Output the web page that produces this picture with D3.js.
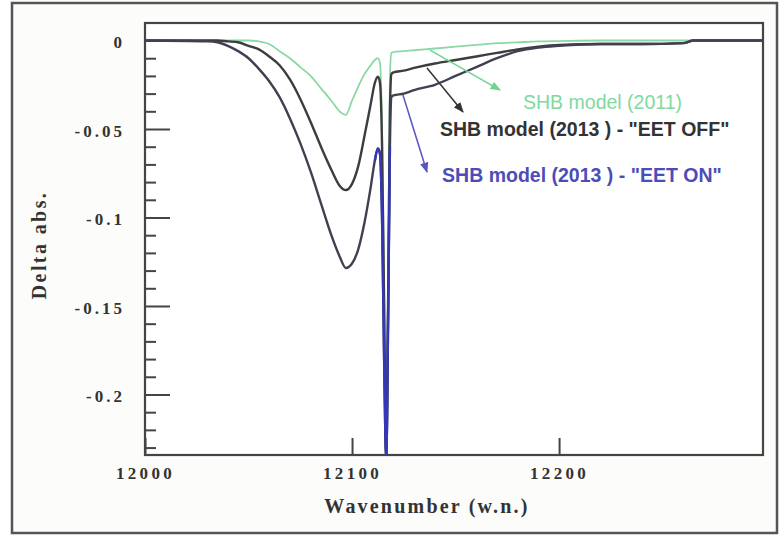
<!DOCTYPE html>
<html><head><meta charset="utf-8">
<script src="https://cdn.jsdelivr.net/npm/d3@7/dist/d3.min.js"></script>
<style>
html,body{margin:0;padding:0;background:#fff;}
svg{display:block;}
</style></head>
<body><svg id="c" width="780" height="537"></svg>
<script>
// ---- data ----
const wavenumbers = [12000, 12030, 12035, 12040, 12045, 12050, 12055, 12060, 12065, 12070, 12075, 12080, 12085, 12090, 12094, 12097, 12100, 12103, 12106, 12109, 12111, 12112.5, 12113.5, 12114.5, 12115.5, 12116.5, 12117.5, 12118.3, 12119, 12120, 12125, 12130, 12140, 12150, 12160, 12170, 12180, 12190, 12200, 12220, 12240, 12260, 12265, 12299];
const shb2011 = [0, 0, 0, 0, 0, 0, -0.0005, -0.002, -0.006, -0.010, -0.015, -0.020, -0.027, -0.034, -0.040, -0.042, -0.034, -0.026, -0.019, -0.014, -0.011, -0.010, -0.013, -0.050, -0.140, -0.210, -0.120, -0.020, -0.007, -0.0065, -0.006, -0.0055, -0.0045, -0.0035, -0.0025, -0.0015, -0.001, -0.0005, -0.0003, 0, 0, 0, 0, 0];
const shb2013Off = [0, 0, 0, -0.0005, -0.001, -0.003, -0.005, -0.009, -0.014, -0.022, -0.033, -0.046, -0.060, -0.073, -0.082, -0.0845, -0.081, -0.071, -0.054, -0.036, -0.024, -0.0205, -0.024, -0.060, -0.150, -0.236, -0.140, -0.040, -0.019, -0.018, -0.017, -0.0155, -0.013, -0.011, -0.009, -0.007, -0.005, -0.0035, -0.0025, -0.002, -0.002, -0.0015, 0, 0];
const shb2013On = [0, -0.0005, -0.001, -0.003, -0.006, -0.010, -0.016, -0.023, -0.032, -0.044, -0.058, -0.074, -0.092, -0.110, -0.122, -0.1285, -0.126, -0.118, -0.103, -0.083, -0.068, -0.061, -0.064, -0.100, -0.180, -0.236, -0.150, -0.060, -0.032, -0.031, -0.030, -0.028, -0.025, -0.020, -0.015, -0.010, -0.006, -0.004, -0.003, -0.002, -0.002, -0.0015, 0, 0];
const seriesNames = ["SHB model (2011)", "SHB model (2013 ) - \"EET OFF\"", "SHB model (2013 ) - \"EET ON\""];
const yTickValues = [0, -0.05, -0.1, -0.15, -0.2];
const yTickLabels = ["0", "-0.05", "-0.1", "-0.15", "-0.2"];
const yMinorValues = [-0.01,-0.02,-0.03,-0.04,-0.06,-0.07,-0.08,-0.09,-0.11,-0.12,-0.13,-0.14,-0.16,-0.17,-0.18,-0.19,-0.21,-0.22,-0.23];
const xTickValues = [12000, 12100, 12200];
const xTickLabels = ["12000", "12100", "12200"];
const xTitle = "Wavenumber (w.n.)";
const yTitle = "Delta abs.";
// annotation arrows (data coords): [x0,y0,x1,y1]
const arrows2011 = [12137.7, -0.0054, 12171.5, -0.028];
const arrowsOff = [12136.2, -0.0155, 12153.6, -0.0404];
const arrowsOn = [12124.6, -0.0308, 12136.2, -0.0743];
const labelPos = [[12182.6, -0.0387], [12142.5, -0.054], [12143.5, -0.080]];

// ---- layout ----
const svg = d3.select("#c");
const L = 145, R = 763, T = 23, B = 455;
const x = d3.scaleLinear().domain([12000, 12298.5]).range([L, R]);
const y = d3.scaleLinear().domain([-0.2342, 0.0099]).range([B, T]);

svg.append("rect").attr("x", 0).attr("y", 0).attr("width", 780).attr("height", 537).attr("fill", "#fff");
svg.append("rect").attr("x", 12).attr("y", 3).attr("width", 765).attr("height", 530)
  .attr("fill", "#fcfcfa").attr("stroke", "#555").attr("stroke-width", 2.5);
svg.append("rect").attr("x", L).attr("y", T).attr("width", R - L).attr("height", B - T).attr("fill", "#fff");

svg.append("defs").append("clipPath").attr("id", "clip")
  .append("rect").attr("x", L).attr("y", T).attr("width", R - L).attr("height", B - T);

const serif = "'Liberation Serif','Times New Roman',serif";
const sans = "'Liberation Sans',Arial,sans-serif";

// minor y ticks
const gMinor = svg.append("g").attr("transform", `translate(${L},0)`)
  .call(d3.axisRight(y).tickValues(yMinorValues).tickSize(11).tickFormat(""));
gMinor.select(".domain").remove();
gMinor.selectAll("line").attr("stroke", "#444").attr("stroke-width", 2);

// y axis
const gy = svg.append("g").attr("transform", `translate(${L},0)`)
  .call(d3.axisLeft(y).tickValues(yTickValues).tickSize(-25).tickPadding(20)
    .tickFormat((d, i) => yTickLabels[i]));
gy.select(".domain").remove();
gy.selectAll("line").attr("stroke", "#444").attr("stroke-width", 2);
gy.selectAll("text").attr("font-family", serif).attr("font-weight", "bold")
  .attr("font-size", 17).attr("letter-spacing", 3).attr("fill", "#333").attr("dy", "0.42em");

// x axis
const gx = svg.append("g").attr("transform", `translate(0,${B})`)
  .call(d3.axisBottom(x).tickValues(xTickValues).tickSize(-17).tickPadding(12)
    .tickFormat((d, i) => xTickLabels[i]));
gx.select(".domain").remove();
gx.selectAll("line").attr("stroke", "#444").attr("stroke-width", 2);
gx.selectAll("text").attr("font-family", serif).attr("font-weight", "bold")
  .attr("font-size", 17).attr("letter-spacing", 3.3).attr("fill", "#333");

// frame
svg.append("rect").attr("x", L).attr("y", T).attr("width", R - L).attr("height", B - T)
  .attr("fill", "none").attr("stroke", "#444").attr("stroke-width", 2.2);

// titles
svg.append("text").attr("x", 427).attr("y", 513).attr("text-anchor", "middle")
  .attr("font-family", serif).attr("font-weight", "bold").attr("font-size", 20)
  .attr("letter-spacing", 2.2).attr("fill", "#333").text(xTitle);
svg.append("text").attr("transform", "translate(46,245) rotate(-90)").attr("text-anchor", "middle")
  .attr("font-family", serif).attr("font-weight", "bold").attr("font-size", 20)
  .attr("letter-spacing", 2.4).attr("fill", "#333").text(yTitle);

// lines
const pts = v => wavenumbers.map((w, i) => ({ x: w, y: v[i] }));
const line = d3.line().x(d => x(d.x)).y(d => y(d.y)).curve(d3.curveMonotoneX);
const plot = svg.append("g").attr("clip-path", "url(#clip)");

plot.append("path").datum(pts(shb2011)).attr("d", line)
  .attr("fill", "none").attr("stroke", "#8ad9a4").attr("stroke-width", 1.8);
plot.append("path").datum(pts(shb2013Off)).attr("d", line)
  .attr("fill", "none").attr("stroke", "#3d3d3d").attr("stroke-width", 2.4);
plot.append("path").datum(pts(shb2013On)).attr("d", line)
  .attr("fill", "none").attr("stroke", "#404052").attr("stroke-width", 2.4);
const blueLine = d3.line().x(d => x(d.x)).y(d => y(d.y)).curve(d3.curveMonotoneX)
  .defined(d => d.x >= 12111 && d.x <= 12118.3);
plot.append("path").datum(pts(shb2013On)).attr("d", blueLine)
  .attr("fill", "none").attr("stroke", "#3636b8").attr("stroke-width", 2.4);

// arrow markers
const defs = svg.select("defs");
const colors = ["#6fd38f", "#333", "#5656c0"];
colors.forEach((c, i) => {
  defs.append("marker").attr("id", "ah" + i).attr("viewBox", "0 0 10 10")
    .attr("refX", 9).attr("refY", 5).attr("markerWidth", 7).attr("markerHeight", 7)
    .attr("orient", "auto").append("path").attr("d", "M0,1 L10,5 L0,9 z").attr("fill", c);
});
[arrows2011, arrowsOff, arrowsOn].forEach((a, i) => {
  svg.append("line").attr("x1", x(a[0])).attr("y1", y(a[1])).attr("x2", x(a[2])).attr("y2", y(a[3]))
    .attr("stroke", colors[i]).attr("stroke-width", 1.5).attr("marker-end", `url(#ah${i})`);
});

// labels
const labelColors = ["#7fd9a0", "#333", "#4d4db8"];
const labelWeights = ["normal", "bold", "bold"];
seriesNames.forEach((n, i) => {
  svg.append("text").attr("x", x(labelPos[i][0])).attr("y", y(labelPos[i][1]))
    .attr("font-family", sans).attr("font-weight", labelWeights[i]).attr("font-size", 19.5)
    .attr("fill", labelColors[i]).text(n);
});
</script></body></html>
